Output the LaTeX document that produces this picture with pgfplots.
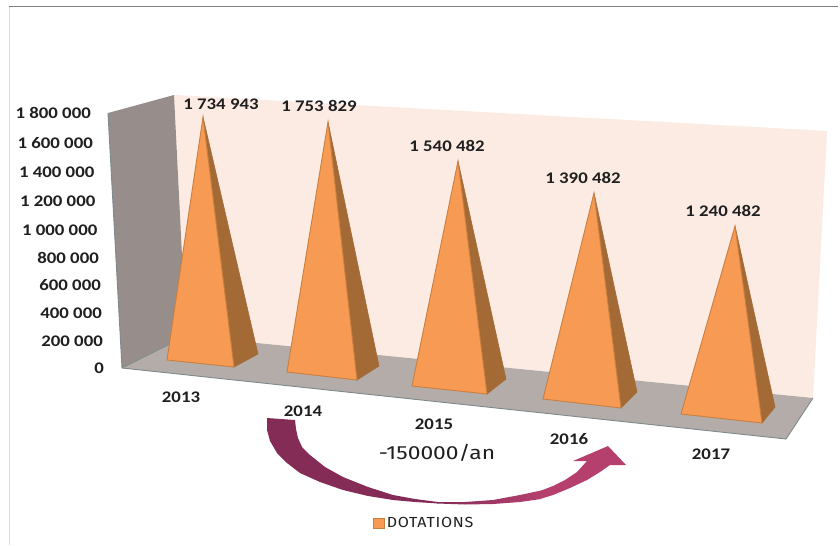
\documentclass[border=0pt]{standalone}
\usepackage{pgfplots}
\usepackage{fontspec}
\pgfplotsset{compat=1.18}
\setmainfont[FakeStretch=1.16]{Carlito}
\newfontfamily\wide[FakeStretch=1.2]{Fira Sans}
\newfontfamily\legfont[FakeStretch=1.1,LetterSpace=5]{Fira Sans}
\definecolor{wallback}{HTML}{FCEBE3}
\definecolor{wallleft}{HTML}{978D8A}
\definecolor{floorc}{HTML}{B3ACA8}
\definecolor{edgeg}{HTML}{7E8A8C}
\definecolor{front}{HTML}{F79A53}
\definecolor{frontedge}{HTML}{C97F40}
\definecolor{sidec}{HTML}{A46A36}
\definecolor{arrowa}{HTML}{842C55}
\definecolor{arrowb}{HTML}{B5406E}
\definecolor{txt}{HTML}{1F1F1F}
\tikzset{
  val/.style={font=\fontsize{16.2}{17}\selectfont\bfseries,text=txt,inner sep=0pt},
  ytl/.style={val,anchor=east},
}
\begin{document}
\begin{tikzpicture}
\begin{axis}[
  scale only axis, width=840pt, height=545pt,
  xmin=0, xmax=840, ymin=0, ymax=545, y dir=reverse,
  hide axis, clip=false,
  legend style={at={(axis cs:373,523.5)}, anchor=west, draw=none, fill=none,
    inner sep=0pt, outer sep=0pt, font=\legfont\fontsize{14.6}{15}\selectfont, text=txt,
    legend cell align=left},
  legend image code/.code={\draw[fill=front,draw=frontedge,line width=0.8pt] (0pt,-5pt) rectangle (11pt,5pt);},
]
% page
\addplot[fill=white,draw=none,forget plot] coordinates {(0,0)(840,0)(840,545)(0,545)} -- cycle;
\addplot[color=black!50,line width=1pt,forget plot] coordinates {(9,6.3)(838,6.3)};
\addplot[color=black!14,line width=1pt,forget plot] coordinates {(9.5,7)(9.5,545)};
% walls and floor
\addplot[fill=wallback,draw=none,forget plot] coordinates {(174,95)(827,131)(813,398)(186,336)} -- cycle;
\addplot[fill=wallleft,draw=none,forget plot] coordinates {(108,113)(174,95)(186,336)(122,368)} -- cycle;
\addplot[fill=floorc,draw=none,forget plot] coordinates {(122,368)(186,336)(813,398)(786,439)} -- cycle;
\addplot[color=edgeg,line width=0.9pt,forget plot] coordinates {(108,113)(122,368)(786,439)(813,398)};
\addplot[color=edgeg,line width=0.7pt,forget plot] coordinates {(122,368)(186,336)};
% pyramids
\addplot[fill=sidec,draw=sidec,line width=0.6pt,forget plot] coordinates {(203,117)(234,367)(258,354)} -- cycle;
\addplot[fill=front,draw=frontedge,line width=0.9pt] coordinates {(203,117)(167,360)(234,367)} -- cycle;
\addlegendentry{DOTATIONS}
\addplot[fill=sidec,draw=sidec,line width=0.6pt,forget plot] coordinates {(328,122)(357,380)(379,366)} -- cycle;
\addplot[fill=front,draw=frontedge,line width=0.9pt,forget plot] coordinates {(328,122)(287,372)(357,380)} -- cycle;
\addplot[fill=sidec,draw=sidec,line width=0.6pt,forget plot] coordinates {(458,161)(487,394)(506,379)} -- cycle;
\addplot[fill=front,draw=frontedge,line width=0.9pt,forget plot] coordinates {(458,161)(412,386)(487,394)} -- cycle;
\addplot[fill=sidec,draw=sidec,line width=0.6pt,forget plot] coordinates {(594,193)(621,408)(637,392)} -- cycle;
\addplot[fill=front,draw=frontedge,line width=0.9pt,forget plot] coordinates {(594,193)(543,399)(621,408)} -- cycle;
\addplot[fill=sidec,draw=sidec,line width=0.6pt,forget plot] coordinates {(735,226)(762,423)(775,407)} -- cycle;
\addplot[fill=front,draw=frontedge,line width=0.9pt,forget plot] coordinates {(735,226)(681,414)(762,423)} -- cycle;
% arrow: dark part, blend, light part
\addplot[fill=arrowa,draw=none,forget plot] coordinates {
 (267,418)(267,430)(270,441)(277,453)(287,463)(300,473)(320,482)(343,490)(368,496)(393,500)(415,502)(438,503.5)
 (438,502)(415,499)(393,495)(368,487)(343,477)(325,467)(310,455)(302,447)(298,438)(296,429)(295,420)} -- cycle;
\addplot[left color=arrowa,right color=arrowb,draw=none,forget plot] coordinates {
 (437,503.5)(465,504.5)(493,504)(520,502)(541,499)(541,490.5)(520,495)(493,500)(465,502)(437,502)} -- cycle;
\addplot[fill=arrowb,draw=none,forget plot] coordinates {
 (540,499)(553,495)(570,488)(587,480)(600,472)(610,465)(626,465)(608,446)(573,461)(587,461)
 (577,472)(565,480)(553,486)(540,491)} -- cycle;
% value labels
\node[val] at (axis cs:221,104) {1 734 943};
\node[val] at (axis cs:319,106) {1 753 829};
\node[val] at (axis cs:447,146) {1 540 482};
\node[val] at (axis cs:583,178) {1 390 482};
\node[val] at (axis cs:723,211) {1 240 482};
% value axis labels
\node[ytl] at (axis cs:91,113) {1 800 000};
\node[ytl] at (axis cs:93,143) {1 600 000};
\node[ytl] at (axis cs:94.5,172) {1 400 000};
\node[ytl] at (axis cs:95.5,201) {1 200 000};
\node[ytl] at (axis cs:97.5,230) {1 000 000};
\node[ytl] at (axis cs:99,258) {800 000};
\node[ytl] at (axis cs:101,285) {600 000};
\node[ytl] at (axis cs:102,313) {400 000};
\node[ytl] at (axis cs:103,341) {200 000};
\node[ytl] at (axis cs:104,368) {0};
% categories
\node[val] at (axis cs:181,397) {2013};
\node[val] at (axis cs:303,411) {2014};
\node[val] at (axis cs:434,424) {2015};
\node[val] at (axis cs:569,439) {2016};
\node[val] at (axis cs:711,454) {2017};
\node[inner sep=0pt,text=txt,font=\wide\fontsize{19}{20}\selectfont] at (axis cs:437,453) {-150000/an};
\end{axis}
\end{tikzpicture}
\end{document}
